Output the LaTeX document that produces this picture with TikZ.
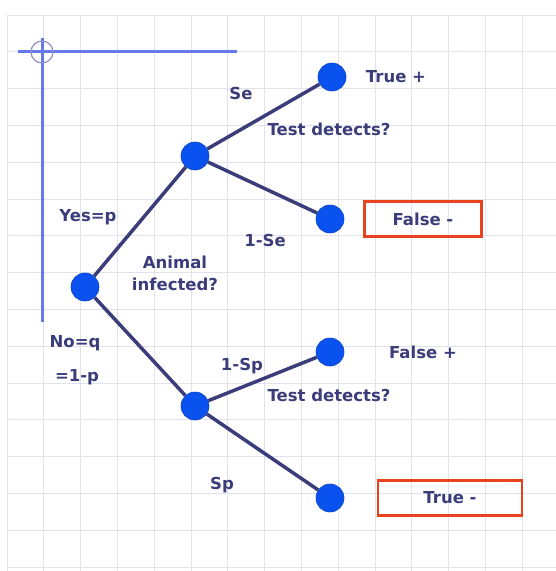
\documentclass[tikz,border=0pt]{standalone}
\usepackage{fontspec}
\setsansfont{DejaVu Sans}
\usetikzlibrary{positioning}

\definecolor{navy}{HTML}{3B3D7A}
\definecolor{dotblue}{HTML}{0A52F0}
\definecolor{boxred}{HTML}{E8421E}
\definecolor{axisblue}{HTML}{6679EC}
\definecolor{ringgray}{HTML}{8E90C8}
\definecolor{gridgray}{HTML}{E0E2EE}

\tikzset{
  event/.style={circle, fill=dotblue, draw=dotblue!80!black, line width=0.6pt,
    minimum size=28pt, inner sep=0pt},
  branch/.style={draw=navy, line width=3.5pt},
  lbl/.style={text=navy, font=\sffamily\bfseries\fontsize{16.5}{22}\selectfont,
    inner sep=0pt, align=center},
  outcome/.style={lbl, draw=boxred, line width=2.2pt, minimum height=35pt},
}

\begin{document}
\begin{tikzpicture}[x=1pt, y=-1pt, node distance=50pt, on grid]
	\useasboundingbox (0,0) rectangle (556,571);
	
	% grid paper
	\foreach \i in {0,...,14}
		\draw[gridgray, line width=0.8pt] ({7+36.8*\i},15) -- ({7+36.8*\i},571);
	\foreach \j in {0,...,15}
		\draw[gridgray, line width=0.8pt] (7,{15+36.8*\j}) -- (556,{15+36.8*\j});
	
	% crosshair
	\draw[axisblue, line width=3pt] (18,51) -- (237,51);
	\draw[axisblue, line width=3pt] (42,38) -- (42,322);
	\draw[ringgray, line width=1.2pt] (42,52) circle (11pt);
	
	\node[event] (root) at (85,287) {};
	\node[event, above right=131pt and 110pt of root] (yes) {};
	\node[event, below right=119pt and 110pt of root] (no) {};
	\node[event, above right=79pt and 137pt of yes] (truepos) {};
	\node[event, below right=63pt and 135pt of yes] (falseneg) {};
	\node[event, above right=54pt and 135pt of no] (falsepos) {};
	\node[event, below right=92pt and 135pt of no] (trueneg) {};
	
	\draw[branch] (root) -- (yes)
		(root) -- (no)
		(yes) -- (truepos)
		(yes) -- (falseneg)
		(no) -- (falsepos)
		(no) -- (trueneg);
	
	\node[lbl, above right=70pt and 3pt of root] (yesp) {Yes=p};
	\node[lbl, below left=56pt and 10pt of root] (noq) {No=q};
	\node[lbl, below right=34pt and 2pt of noq] (oneminusp) {=1-p};
	\node[lbl, above right=14pt and 90pt of root] (infected) {Animal\\infected?};
	
	\node[lbl, above right=63pt and 46pt of yes] (se) {Se};
	\node[lbl, below right=84pt and 70pt of yes] (oneminusse) {1-Se};
	\node[lbl, above right=27pt and 134pt of yes] (testyes) {Test detects?};
	\node[lbl, right=64pt of truepos] (truepostxt) {True +};
	\node[outcome, right=93pt of falseneg, minimum width=117pt] (falsenegbox) {False -};
	
	\node[lbl, above right=40pt and 47pt of no] (oneminussp) {1-Sp};
	\node[lbl, below right=79pt and 27pt of no] (sp) {Sp};
	\node[lbl, above right=11pt and 134pt of no] (testno) {Test detects?};
	\node[lbl, right=93pt of falsepos] (falsepostxt) {False +};
	\node[outcome, right=120pt of trueneg, minimum width=144pt] (truenegbox) {True -};
\end{tikzpicture}
\end{document}
